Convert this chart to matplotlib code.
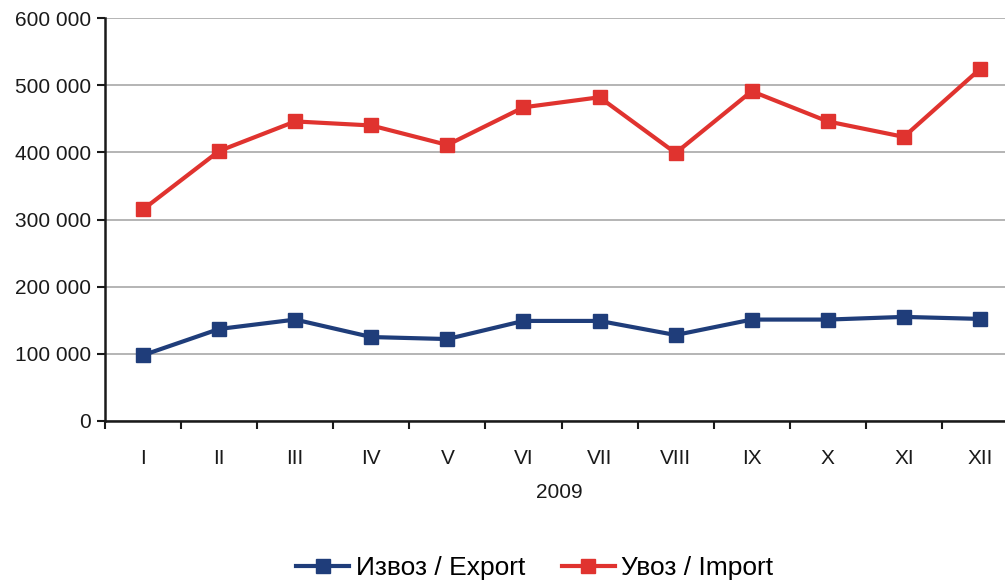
import matplotlib.pyplot as plt
from matplotlib.ticker import FuncFormatter, FixedLocator

plt.rcParams['font.family'] = ['Liberation Sans', 'DejaVu Sans']

months = ["I", "II", "III", "IV", "V", "VI", "VII", "VIII", "IX", "X", "XI", "XII"]
export = [98000, 137000, 151000, 125000, 122000, 149000, 149000, 128000, 151000, 151000, 155000, 152000]
imports = [315000, 402000, 446000, 440000, 411000, 467000, 482000, 399000, 491000, 446000, 423000, 524000]

fig = plt.figure(figsize=(10.05, 5.83), dpi=100)
ax = fig.add_axes([105 / 1005, 1 - 421 / 583, 913 / 1005, 403 / 583])

x = range(len(months))
ax.plot(x, export, color='#1f3d7a', lw=3, marker='s', ms=9.5, label='Извоз / Export')
ax.plot(x, imports, color='#e0332f', lw=3, marker='s', ms=9.5, label='Увоз / Import')

ax.set_xlim(-0.5, len(months) - 0.5)
ax.set_ylim(0, 600000)
ax.set_yticks(range(0, 600001, 100000))
ax.yaxis.set_major_formatter(FuncFormatter(lambda v, p: f"{int(v):,}".replace(",", " ")))
ax.grid(axis='y', color='#a8a8a8', lw=1.2)
ax.set_axisbelow(True)

# category boundaries get the ticks, labels sit in between
ax.set_xticks([i - 0.5 for i in range(len(months) + 1)])
ax.set_xticklabels([])
ax.xaxis.set_minor_locator(FixedLocator(list(x)))
ax.set_xticks(list(x), months, minor=True)
ax.tick_params(axis='x', which='major', length=6, width=1.5, color='#1a1a1a')
ax.tick_params(axis='x', which='minor', length=0, pad=20, labelsize=15, labelcolor='#1a1a1a')
ax.tick_params(axis='y', length=6, width=1.5, color='#1a1a1a', labelsize=15, labelcolor='#1a1a1a', pad=4)

for s in ['top', 'right']:
    ax.spines[s].set_visible(False)
for s in ['left', 'bottom']:
    ax.spines[s].set_linewidth(1.8)
    ax.spines[s].set_color('#1a1a1a')

fig.text(559 / 1005, 1 - 493 / 583, '2009', ha='center', va='center', fontsize=15, color='#1a1a1a')

fig.legend(loc='center', bbox_to_anchor=(535 / 1005, 1 - 568 / 583), ncol=2, frameon=False,
           fontsize=19, handlelength=2.0, columnspacing=1.4, handletextpad=0.25)

fig.savefig('out.png', dpi=100)
